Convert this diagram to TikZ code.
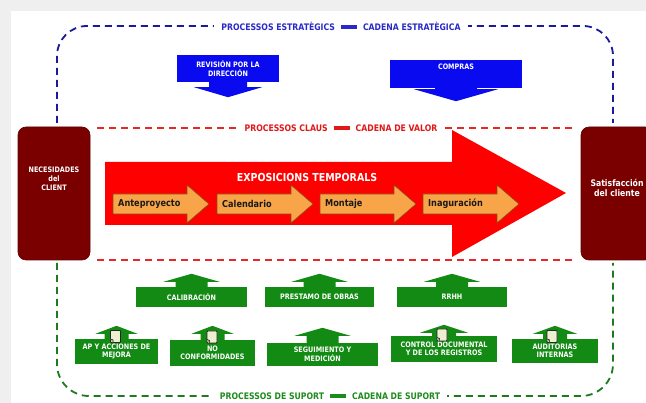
\documentclass[tikz,border=0pt]{standalone}
\usepackage{fontspec}
\setmainfont{DejaVu Sans}[FakeStretch=0.86]
\usetikzlibrary{calc}

\definecolor{pagegray}{HTML}{EFEFEF}
\definecolor{stratline}{HTML}{1A1A9A}
\definecolor{strattext}{HTML}{2A2AC8}
\definecolor{stratfill}{HTML}{0A0AF0}
\definecolor{keyline}{HTML}{E52828}
\definecolor{keytext}{HTML}{E01818}
\definecolor{keyred}{HTML}{FF0000}
\definecolor{supline}{HTML}{1E7A1E}
\definecolor{suptext}{HTML}{1C8C1C}
\definecolor{supfill}{HTML}{138A13}
\definecolor{clientred}{HTML}{7A0000}
\definecolor{stepfill}{HTML}{F7A548}
\definecolor{stepline}{HTML}{8A4A10}
\definecolor{docfill}{HTML}{EEEED0}

% separator bar between the two halves of a chain title
\newcommand\chainsep{\hspace{6pt}\rule[1.5pt]{16pt}{3.5pt}\hspace{6pt}}

% arrow hanging below a box: node, colour, neck half-width, neck height, head half-width, head height
\newcommand\calloutdown[6]{%
  \fill[#2] ($(#1.south)+(-#3,-1)$) -- ($(#1.south)+(-#3,#4)$) -- ($(#1.south)+(-#5,#4)$)
    -- ($(#1.south)+(0,#4+#6)$) -- ($(#1.south)+(#5,#4)$) -- ($(#1.south)+(#3,#4)$)
    -- ($(#1.south)+(#3,-1)$) -- cycle;}
% arrow standing on top of a box: same arguments
\newcommand\calloutup[6]{%
  \fill[#2] ($(#1.north)+(-#3,1)$) -- ($(#1.north)+(-#3,-#4)$) -- ($(#1.north)+(-#5,-#4)$)
    -- ($(#1.north)+(0,-#4-#6)$) -- ($(#1.north)+(#5,-#4)$) -- ($(#1.north)+(#3,-#4)$)
    -- ($(#1.north)+(#3,1)$) -- cycle;}
% orange stage arrow: left x, node name, text
\newcommand\steparrow[3]{%
  \draw[stepline, fill=stepfill, line width=0.6pt, line join=miter]
    (#1,194) -- (#1+74,194) -- (#1+74,185) -- (#1+96,204) -- (#1+74,223)
    -- (#1+74,214) -- (#1,214) -- cycle;
  \node[steptext, anchor=west] (#2) at (#1+5,204) {#3};}
% small document sheet with a folded lower-left corner: name, position
\newcommand\docsheet[2]{%
  \node[docicon] (#1) at #2 {};
  \draw[black!85, fill=docfill!70!black, line width=0.6pt, line join=round]
    ($(#1.south west)+(0,-4)$) -- ($(#1.south west)+(3,-3)$) -- ($(#1.south west)+(3,0)$);}

\tikzset{
  frameline/.style={line width=1.8pt, dash pattern=on 7pt off 5pt},
  chainlabel/.style={fill=white, inner xsep=7pt, inner ysep=1pt,
    font=\fontsize{9}{10}\selectfont\bfseries},
  boxtext/.style={text=white, align=center, inner sep=0pt,
    font=\fontsize{7.5}{8.5}\selectfont\bfseries},
  stratbox/.style={fill=stratfill, boxtext},
  supbox/.style={fill=supfill, boxtext},
  clientbox/.style={fill=clientred, draw=clientred!80!black, line width=0.6pt,
    rounded corners=8pt, inner sep=0pt},
  clienttext/.style={text=white, align=center, inner sep=0pt,
    font=\fontsize{7.5}{9}\selectfont\bfseries},
  steptext/.style={text=black!90, inner sep=0pt,
    font=\fontsize{9.5}{10}\selectfont\bfseries},
  docicon/.style={draw=black!85, fill=docfill, line width=0.8pt,
    minimum width=10pt, minimum height=12pt, inner sep=0pt, rounded corners=0.8pt},
}

\begin{document}
\begin{tikzpicture}[x=1pt,y=-1pt]
\useasboundingbox (0,0) rectangle (646,403);
\fill[pagegray] (0,0) rectangle (646,403);
\fill[white] (11,11) rectangle (646,403);

% ---- strategic processes
\draw[stratline, frameline, rounded corners=30pt] (57,123) -- (57,26) -- (613,26) -- (613,123);
\node[chainlabel, text=strattext] (stratlbl) at (341,26) {PROCESSOS ESTRATÈGICS\chainsep CADENA ESTRATÈGICA};

\node[stratbox, minimum width=102pt, minimum height=27pt] (rev) at (228,68.5) {REVISIÓN POR LA\\DIRECCIÓN};
\calloutdown{rev}{stratfill}{19}{5}{34}{10}
\node[stratbox, minimum width=132pt, minimum height=28pt] (comp) at (456,74) {};
\node[boxtext] (comptext) at (456,67) {COMPRAS};
\calloutdown{comp}{stratfill}{21}{1}{42}{12}

% ---- key processes (value chain)
\draw[keyline, frameline] (97,128) -- (576,128);
\draw[keyline, frameline] (97,260) -- (576,260);
\node[chainlabel, text=keytext] (keylbl) at (341,128) {PROCESSOS CLAUS\chainsep CADENA DE VALOR};

\fill[keyred] (105,162) -- (452,162) -- (452,130) -- (566,193) -- (452,257) -- (452,225) -- (105,225) -- cycle;
\node[text=white, inner sep=0pt, font=\fontsize{11}{12}\selectfont\bfseries] (expo) at (307,177) {EXPOSICIONS TEMPORALS};

\steparrow{113}{s1}{Anteproyecto}
\steparrow{217}{s2}{Calendario}
\steparrow{320}{s3}{Montaje}
\steparrow{423}{s4}{Inaguración}

% ---- customer ends
\node[clientbox, minimum width=72pt, minimum height=133pt] (needs) at (54,193.5) {};
\node[clienttext] (needstext) at (54,179) {NECESIDADES\\del\\CLIENT};
\node[clientbox, minimum width=72pt, minimum height=133pt] (satis) at (617,193.5) {};
\node[clienttext, font=\fontsize{9}{10.5}\selectfont\bfseries] (satistext) at (617,188) {Satisfacción\\del cliente};

% ---- support processes
\draw[supline, frameline, rounded corners=32pt] (57,263) -- (57,396) -- (613,396) -- (613,263);
\node[chainlabel, text=suptext] (suplbl) at (330,396) {PROCESSOS DE SUPORT\chainsep CADENA DE SUPORT};

\node[supbox, minimum width=111pt, minimum height=20pt] (calib) at (191.5,297) {CALIBRACIÓN};
\calloutup{calib}{supfill}{16}{5}{28}{8}
\node[supbox, minimum width=109pt, minimum height=20pt] (prest) at (319.5,297) {PRESTAMO DE OBRAS};
\calloutup{prest}{supfill}{16}{5}{28}{8}
\node[supbox, minimum width=110pt, minimum height=20pt] (rrhh) at (452,297) {RRHH};
\calloutup{rrhh}{supfill}{16}{5}{28}{8}

\node[supbox, minimum width=83pt, minimum height=25pt] (apm) at (116.5,351.5) {AP Y ACCIONES DE\\MEJORA};
\calloutup{apm}{supfill}{12}{5}{21}{8}
\node[supbox, minimum width=85pt, minimum height=26pt] (noconf) at (212.5,353) {NO\\CONFORMIDADES};
\calloutup{noconf}{supfill}{12}{6}{21}{8}
\node[supbox, minimum width=111pt, minimum height=23pt] (seg) at (322.5,354.5) {SEGUIMIENTO Y\\MEDICIÓN};
\calloutup{seg}{supfill}{16}{7}{28}{8}
\node[supbox, minimum width=106pt, minimum height=26pt] (ctrl) at (444,349) {CONTROL DOCUMENTAL\\Y DE LOS REGISTROS};
\calloutup{ctrl}{supfill}{12}{3}{24}{8}
\node[supbox, minimum width=86pt, minimum height=24pt] (audit) at (555,351) {AUDITORIAS\\INTERNAS};
\calloutup{audit}{supfill}{12}{5}{22}{8}

% document marks on the quality-system arrows
\docsheet{docapm}{(115.5,336.5)}
\docsheet{docnoconf}{(212,337)}
\docsheet{docctrl}{(442,335)}
\docsheet{docaudit}{(552,336.5)}
\end{tikzpicture}
\end{document}
